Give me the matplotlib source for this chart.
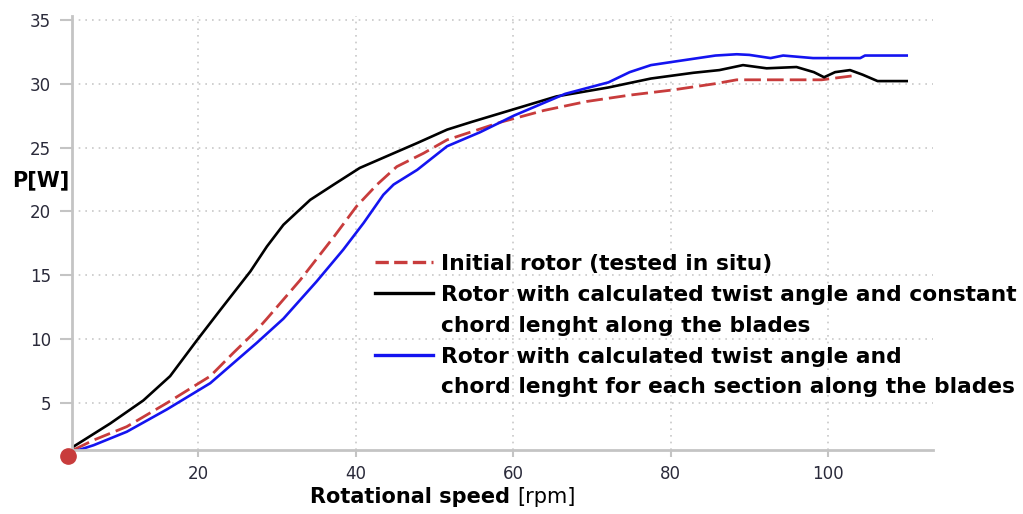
import matplotlib
matplotlib.use("Agg")
import matplotlib.pyplot as plt
from matplotlib.lines import Line2D

# rotational speed [rpm] and power [W]
initial_rpm = [4.2, 6.7, 10.9, 16.0, 21.5, 24.4, 27.4, 28.7, 32.9, 37.2, 40.1, 42.7, 45.2,
               48.6, 51.6, 58.5, 63.9, 69.3, 74.8, 80.2, 85.7, 88.4, 93.8, 99.2, 103.0]
initial_p = [1.35, 2.1, 3.15, 5.0, 7.1, 8.9, 10.7, 11.6, 14.6, 18.0, 20.4, 22.1, 23.5,
             24.55, 25.6, 27.0, 27.9, 28.6, 29.1, 29.5, 30.0, 30.3, 30.3, 30.3, 30.6]

const_rpm = [3.9, 8.8, 13.0, 16.4, 19.8, 22.8, 26.6, 28.7, 30.8, 34.2, 37.2, 40.5, 44.8,
             47.8, 51.6, 54.7, 60.1, 65.5, 72.1, 77.5, 82.9, 86.2, 89.2, 92.2, 96.0,
             98.2, 99.5, 100.9, 102.8, 104.4, 106.3, 110.0]
const_p = [1.5, 3.4, 5.2, 7.1, 9.9, 12.3, 15.3, 17.25, 18.95, 20.9, 22.1, 23.4, 24.55,
           25.35, 26.4, 27.0, 28.0, 29.0, 29.7, 30.4, 30.85, 31.06, 31.45, 31.2, 31.3,
           30.9, 30.5, 30.9, 31.06, 30.7, 30.2, 30.2]

section_rpm = [4.2, 6.7, 10.9, 16.0, 21.5, 24.4, 27.4, 30.8, 35.0, 38.4, 41.0, 43.5, 44.8,
               47.8, 51.6, 55.8, 60.1, 66.6, 72.1, 74.8, 77.5, 80.2, 85.7, 88.4, 90.0,
               92.7, 94.3, 98.1, 104.1, 104.7, 110.0]
section_p = [1.2, 1.7, 2.75, 4.5, 6.55, 8.1, 9.7, 11.6, 14.5, 17.0, 19.1, 21.3, 22.1,
             23.25, 25.1, 26.2, 27.5, 29.2, 30.1, 30.9, 31.45, 31.7, 32.2, 32.3, 32.25,
             32.0, 32.2, 32.0, 32.0, 32.2, 32.2]

start_rpm = [3.45]
start_p = [0.86]

x_ticks = [20, 40, 60, 80, 100]
y_ticks = [5, 10, 15, 20, 25, 30, 35]

labels = [
    "Initial rotor (tested in situ)",
    "Rotor with calculated twist angle and constant",
    "chord lenght along the blades",
    "Rotor with calculated twist angle and",
    "chord lenght for each section along the blades",
]

RED = "#c83c3c"
BLUE = "#1414f0"
GRID = "#c8c8c8"
SPINE = "#c4c4c4"
TICKTXT = "#2a2a3a"

fig = plt.figure(figsize=(10.23, 5.14), dpi=100)
ax = fig.add_axes([0.0701, 0.1245, 0.8416, 0.8445])

ax.plot(initial_rpm, initial_p, color=RED, lw=2.0, dashes=(6, 2.2))
ax.plot(const_rpm, const_p, color="black", lw=1.9)
ax.plot(section_rpm, section_p, color=BLUE, lw=1.9)
ax.plot(start_rpm, start_p, "o", color=RED, ms=11, clip_on=False, zorder=5)

ax.set_xlim(3.9, 113.3)
ax.set_ylim(1.32, 35.3)
ax.set_xticks(x_ticks)
ax.set_yticks(y_ticks)
ax.grid(True, color=GRID, ls=(0, (1, 3)), lw=1.2)
ax.set_axisbelow(True)

for side in ["top", "right"]:
    ax.spines[side].set_visible(False)
for side in ["left", "bottom"]:
    ax.spines[side].set_color(SPINE)
    ax.spines[side].set_linewidth(2)
ax.tick_params(axis="y", length=9, width=1.5, color=SPINE, labelsize=12,
               labelcolor=TICKTXT, pad=6)
ax.tick_params(axis="x", length=5, width=1.5, color=SPINE, labelsize=12,
               labelcolor=TICKTXT, pad=6)

# axis labels
fig.text(0.012, 0.65, "P[W]", fontsize=15, fontweight="bold", ha="left", va="center")
fig.text(0.4985, 0.033, "Rotational speed", fontsize=15, fontweight="bold",
         ha="right", va="center")
fig.text(0.506, 0.033, "[rpm]", fontsize=15, ha="left", va="center")

# legend, one row per text line so the handles sit on the first line
handles = [
    Line2D([], [], color=RED, lw=2.4, dashes=(4, 1.6)),
    Line2D([], [], color="black", lw=2.4),
    Line2D([], [], color="none"),
    Line2D([], [], color=BLUE, lw=2.4),
    Line2D([], [], color="none"),
]
leg = ax.legend(handles, labels, loc="upper left", bbox_to_anchor=(0.352, 0.452),
                frameon=False, handlelength=2.65, handletextpad=0.4,
                labelspacing=0.5, borderpad=0, borderaxespad=0,
                prop={"weight": "bold", "size": 15.7})

fig.savefig("out.png", dpi=100)
